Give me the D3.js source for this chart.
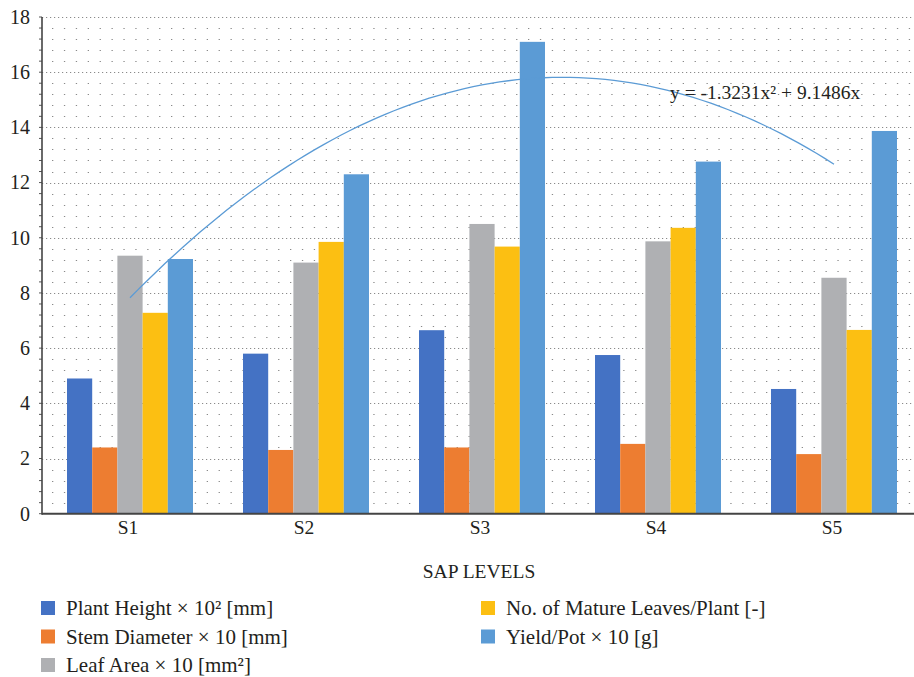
<!DOCTYPE html>
<html><head><meta charset="utf-8">
<script src="https://cdn.jsdelivr.net/npm/d3@7"></script>
<style>body{margin:0;background:#fff}svg{display:block}text{font-family:"Liberation Serif","DejaVu Serif",serif;fill:#231f20}</style>
</head><body><svg id="c" width="914" height="677"></svg>
<script>
const categories = ["S1","S2","S3","S4","S5"];
const seriesNames = ["Plant Height × 10² [mm]","Stem Diameter × 10 [mm]","Leaf Area × 10 [mm²]","No. of Mature Leaves/Plant [-]","Yield/Pot × 10 [g]"];
const plantHeight = [4.9, 5.8, 6.65, 5.75, 4.52];
const stemDiameter = [2.4, 2.31, 2.4, 2.53, 2.16];
const leafArea = [9.35, 9.1, 10.5, 9.87, 8.55];
const matureLeaves = [7.28, 9.85, 9.68, 10.36, 6.66];
const yieldPot = [9.23, 12.3, 17.1, 12.76, 13.87];
const trendCoef = [-1.3231, 9.1486]; // y = a x^2 + b x
const trendLabel = "y = -1.3231x² + 9.1486x";
const yTicks = [0,2,4,6,8,10,12,14,16,18];
const colors = ["#4472c4","#ed7d31","#afb0b3","#fcbf12","#5b9bd5"];

const values = [plantHeight, stemDiameter, leafArea, matureLeaves, yieldPot];
const svg = d3.select("#c");
const L = 42, R = 922, T = 17, B = 513.7;
const x0 = d3.scaleBand().domain(categories).range([L, R]).paddingInner(50/176).paddingOuter(25/176);
const x1 = d3.scaleBand().domain(d3.range(5)).range([0, x0.bandwidth()]);
const y = d3.scaleLinear().domain([0, 18]).range([B, T]);

// minor gridlines
const minor = d3.range(0, 18.001, 0.4).filter(v => Math.abs(v/2 - Math.round(v/2)) > 1e-6);
svg.append("g").selectAll("line").data(minor).join("line")
  .attr("x1", L).attr("x2", 914).attr("y1", d => Math.round(y(d))+0.5).attr("y2", d => Math.round(y(d))+0.5)
  .attr("stroke", "#8a8a8a").attr("stroke-width", 1.2).attr("stroke-dasharray", "1.3,10.6").attr("stroke-dashoffset", -10);
// major gridlines
svg.append("g").selectAll("line").data(yTicks.filter(d => d > 0)).join("line")
  .attr("x1", L).attr("x2", 914).attr("y1", d => Math.round(y(d))+0.5).attr("y2", d => Math.round(y(d))+0.5)
  .attr("stroke", "#8a8a8a").attr("stroke-width", 1.2).attr("stroke-dasharray", "1.2,2.8");

// bars
const g = svg.append("g");
categories.forEach((c, ci) => {
  values.forEach((arr, si) => {
    g.append("rect").attr("x", x0(c) + x1(si)).attr("width", x1.bandwidth())
      .attr("y", y(arr[ci])).attr("height", y(0) - y(arr[ci])).attr("fill", colors[si]);
  });
});

// y axis
svg.append("g").selectAll("line").data(d3.range(0, 18.001, 0.4)).join("line")
  .attr("x1", L-3).attr("x2", L).attr("y1", d => y(d)).attr("y2", d => y(d)).attr("stroke", "#555").attr("stroke-width", 1);
svg.append("line").attr("x1", L).attr("x2", L).attr("y1", y(18)).attr("y2", B+1).attr("stroke", "#444").attr("stroke-width", 1.6);
svg.append("line").attr("x1", L).attr("x2", 914).attr("y1", B).attr("y2", B).attr("stroke", "#444").attr("stroke-width", 2);
svg.append("g").selectAll("text").data(yTicks).join("text")
  .attr("x", 30).attr("y", d => y(d)).attr("dy", "0.34em").attr("text-anchor", "end")
  .attr("font-size", 20).text(d => d);

// x labels
svg.append("g").selectAll("text").data(categories).join("text")
  .attr("x", d => x0(d) + x0.bandwidth()/2 - 2).attr("y", 534).attr("text-anchor", "middle")
  .attr("font-size", 19.5).text(d => d);
svg.append("text").attr("x", (L+R)/2 - 3).attr("y", 578).attr("text-anchor", "middle")
  .attr("font-size", 19.5).text("SAP LEVELS");

// trendline
const tx = d3.scaleLinear().domain([1, 5]).range([x0("S1") + x0.bandwidth()/2, x0("S5") + x0.bandwidth()/2]);
const tpts = d3.range(1, 5.0001, 0.05).map(t => [tx(t), y(trendCoef[0]*t*t + trendCoef[1]*t)]);
svg.append("path").attr("d", d3.line()(tpts)).attr("fill", "none").attr("stroke", "#5b9bd5").attr("stroke-width", 1.3);
svg.append("text").attr("x", 670).attr("y", 99).attr("font-size", 19.5).text(trendLabel);

// legend
const legPos = [[41,608],[41,636.5],[41,665],[481,608],[481,636.5]];
seriesNames.forEach((n, i) => {
  const [lx, ly] = legPos[i];
  svg.append("rect").attr("x", lx).attr("y", ly-7).attr("width", 14).attr("height", 14).attr("fill", colors[i]);
  svg.append("text").attr("x", lx + 25).attr("y", ly).attr("dy", "0.34em").attr("font-size", 21).text(n);
});
</script></body></html>
